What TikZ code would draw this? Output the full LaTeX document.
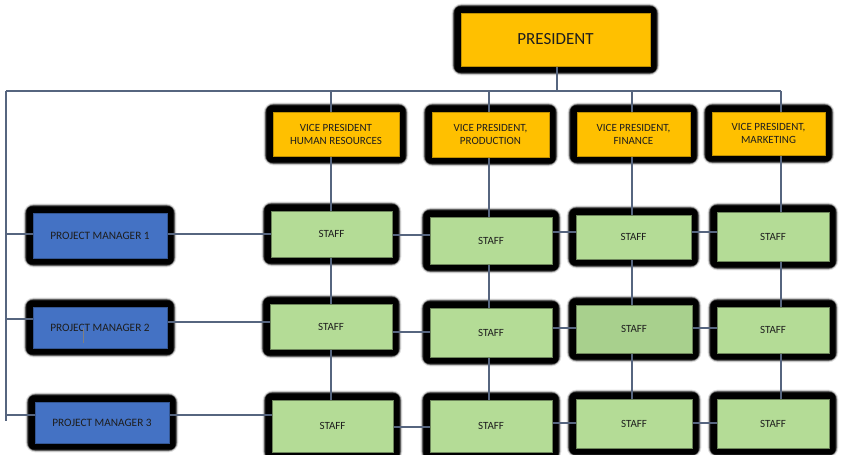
\documentclass[tikz,border=0pt]{standalone}
\usepackage{fontspec}
\setmainfont{Carlito}
\usetikzlibrary{backgrounds,calc}
\pgfdeclarelayer{lines}
\pgfsetlayers{background,lines,main}
\definecolor{gold}{HTML}{FFC000}
\definecolor{pmblue}{HTML}{4472C4}
\definecolor{staffgreen}{HTML}{B4DC96}
\definecolor{staffdark}{HTML}{A8D08D}
\definecolor{conn}{HTML}{56657F}
\definecolor{txt}{HTML}{1E1E1E}
\tikzset{
  box/.style={rectangle, inner sep=0pt, align=center, text=txt, line width=0.8pt},
  presbox/.style={box, fill=gold, draw=gold!75!black, font=\fontsize{17}{19}\selectfont},
  vpbox/.style={box, fill=gold, draw=gold!75!black, font=\fontsize{11}{13}\selectfont},
  pmbox/.style={box, fill=pmblue, draw=pmblue!75!black, font=\fontsize{11.3}{13}\selectfont},
  staffbox/.style={box, fill=staffgreen, draw=staffgreen!60!black, font=\fontsize{11}{13}\selectfont},
  connector/.style={draw=conn, line width=1.3pt},
}
\newcommand{\bx}[6]{\node[#1, minimum width=#4pt, minimum height=#5pt] (#2) at (#3) {#6};}
\begin{document}
\begin{tikzpicture}[x=1pt,y=-1pt]
\useasboundingbox (0,0) rectangle (841,455);
% nodes
\bx{presbox}{pres}{555.5,39.5}{189}{53}{PRESIDENT}
\bx{vpbox}{vp1}{336,134}{126}{44}{VICE PRESIDENT\\HUMAN RESOURCES}
\bx{vpbox}{vp2}{490.5,134.5}{117}{45}{VICE PRESIDENT,\\PRODUCTION}
\bx{vpbox}{vp3}{633.5,134}{113}{44}{VICE PRESIDENT,\\FINANCE}
\bx{vpbox}{vp4}{768.5,133.5}{113}{43}{VICE PRESIDENT,\\MARKETING}
\bx{pmbox}{pm1}{100,235.5}{134}{45}{PROJECT MANAGER 1}
\bx{pmbox}{pm2}{100,327.5}{134}{41}{PROJECT MANAGER 2}
\bx{pmbox}{pm3}{102,422.5}{134}{41}{PROJECT MANAGER 3}
\bx{staffbox}{s11}{331.5,234}{121}{46}{STAFF}
\bx{staffbox}{s12}{491,240.5}{122}{47}{STAFF}
\bx{staffbox}{s13}{633.5,237}{115}{44}{STAFF}
\bx{staffbox}{s14}{773,236.5}{112}{49}{STAFF}
\bx{staffbox}{s21}{331,326.5}{122}{45}{STAFF}
\bx{staffbox}{s22}{491,332.5}{122}{49}{STAFF}
\bx{staffbox,fill=staffdark}{s23}{634,329}{116}{48}{STAFF}
\bx{staffbox}{s24}{773,330}{112}{46}{STAFF}
\bx{staffbox}{s31}{332.5,426}{121}{52}{STAFF}
\bx{staffbox}{s32}{491,426}{122}{52}{STAFF}
\bx{staffbox}{s33}{634,423.5}{116}{49}{STAFF}
\bx{staffbox}{s34}{773,423.5}{112}{49}{STAFF}
% stray mark inside PM2
\draw[gray, line width=0.7pt] ([xshift=-17pt]pm2.center) -- ([xshift=-17pt,yshift=-15pt]pm2.center);
% shadows
\begin{pgfonlayer}{background}
\foreach \n in {pres,vp1,vp2,vp3,vp4,pm1,pm2,pm3,s11,s12,s13,s14,s21,s22,s23,s24,s31,s32,s33,s34}{
  \fill[black, opacity=0.12, rounded corners=10pt] ($(\n.south west)+(-9pt,-9pt)$) rectangle ($(\n.north east)+(9pt,9pt)$);
  \fill[black, opacity=0.3, rounded corners=9pt] ($(\n.south west)+(-8pt,-8pt)$) rectangle ($(\n.north east)+(8pt,8pt)$);
  \fill[black, opacity=0.6, rounded corners=8pt] ($(\n.south west)+(-7.2pt,-7.2pt)$) rectangle ($(\n.north east)+(7.2pt,7.2pt)$);
  \fill[black, rounded corners=6pt] ($(\n.south west)+(-6.3pt,-6.3pt)$) rectangle ($(\n.north east)+(6.3pt,6.3pt)$);
}
\end{pgfonlayer}
% connectors
\coordinate (tl) at (6,91);
\coordinate (tr) at (781,91);
\coordinate (c1) at (331,91);
\coordinate (c2) at (489,91);
\coordinate (c3) at (632,91);
\coordinate (bl) at (6,421);
\coordinate (r1a) at (0,234);
\coordinate (r1b) at (0,235);
\coordinate (r1c) at (0,232);
\coordinate (r2a) at (0,319);
\coordinate (r2b) at (0,322);
\coordinate (r2c) at (0,332);
\coordinate (r2d) at (0,328);
\coordinate (r3a) at (0,415);
\coordinate (r3c) at (0,427);
\coordinate (r3d) at (0,423);
\begin{pgfonlayer}{lines}
\draw[connector] (tl) -- (tr);
\draw[connector] (tl) -- (bl);
\draw[connector] ([xshift=1.5pt]pres.south) -- ([xshift=1.5pt]pres.south |- tl);
% columns
\foreach \c/\v/\a/\b/\d in {c1/vp1/s11/s21/s31, c2/vp2/s12/s22/s32, c3/vp3/s13/s23/s33, tr/vp4/s14/s24/s34}{
  \draw[connector] (\c) -- (\c |- \v.north);
  \draw[connector] (\c |- \v.south) -- (\c |- \a.north);
  \draw[connector] (\c |- \a.south) -- (\c |- \b.north);
  \draw[connector] (\c |- \b.south) -- (\c |- \d.north);
}
% row 1
\draw[connector] (tl |- r1a) -- (pm1.west |- r1a);
\draw[connector] (pm1.east |- r1a) -- (s11.west |- r1a);
\draw[connector] (s11.east |- r1b) -- (s12.west |- r1b);
\draw[connector] (s12.east |- r1c) -- (s13.west |- r1c);
\draw[connector] (s13.east |- r1c) -- (s14.west |- r1c);
% row 2
\draw[connector] (tl |- r2a) -- (pm2.west |- r2a);
\draw[connector] (pm2.east |- r2b) -- (s21.west |- r2b);
\draw[connector] (s21.east |- r2c) -- (s22.west |- r2c);
\draw[connector] (s22.east |- r2d) -- (s23.west |- r2d);
\draw[connector] (s23.east |- r2d) -- (s24.west |- r2d);
% row 3
\draw[connector] (tl |- r3a) -- (pm3.west |- r3a);
\draw[connector] (pm3.east |- r3a) -- (s31.west |- r3a);
\draw[connector] (s31.east |- r3c) -- (s32.west |- r3c);
\draw[connector] (s32.east |- r3d) -- (s33.west |- r3d);
\draw[connector] (s33.east |- r3d) -- (s34.west |- r3d);
\end{pgfonlayer}
\end{tikzpicture}
\end{document}
